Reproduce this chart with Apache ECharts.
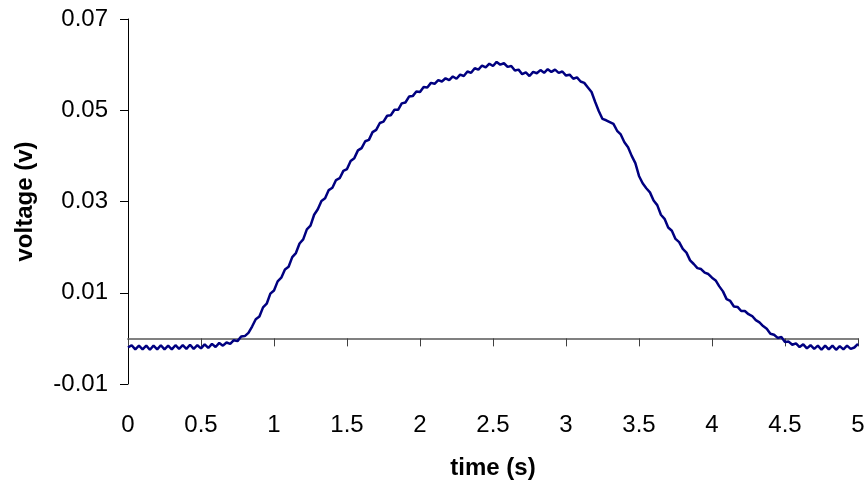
<!DOCTYPE html>
<html>
<head>
<meta charset="utf-8">
<script src="https://cdn.jsdelivr.net/npm/echarts@6/dist/echarts.min.js"></script>
<style>
  html, body { margin: 0; padding: 0; background: #fff; }
  #chart { width: 868px; height: 487px; }
</style>
</head>
<body>
<div id="chart"></div>
<script>
// sampled every 0.025 s, from 0 to 5 s
const timeStep = 0.025;
const voltage = [
  -0.0020, -0.0015, -0.0024, -0.0016, -0.0024, -0.0016, -0.0025, -0.0016, -0.0024, -0.0015,
  -0.0024, -0.0016, -0.0024, -0.0015, -0.0023, -0.0015, -0.0023, -0.0014, -0.0023, -0.0015,
  -0.0022, -0.0013, -0.0021, -0.0012, -0.0019, -0.0010, -0.0016, -0.0009, -0.0012, -0.0004,
  -0.0006, 0.0004, 0.0005, 0.0012, 0.0026, 0.0042, 0.0048, 0.0068, 0.0076, 0.0098,
  0.0105, 0.0125, 0.0133, 0.0151, 0.0157, 0.0178, 0.0187, 0.0208, 0.0217, 0.0239,
  0.0247, 0.0271, 0.0283, 0.0301, 0.0307, 0.0325, 0.0330, 0.0347, 0.0351, 0.0367,
  0.0371, 0.0389, 0.0395, 0.0412, 0.0417, 0.0432, 0.0435, 0.0452, 0.0457, 0.0472,
  0.0475, 0.0488, 0.0489, 0.0501, 0.0501, 0.0515, 0.0517, 0.0530, 0.0531, 0.0541,
  0.0540, 0.0551, 0.0550, 0.0560, 0.0558, 0.0566, 0.0563, 0.0570, 0.0566, 0.0574,
  0.0569, 0.0578, 0.0575, 0.0585, 0.0582, 0.0592, 0.0589, 0.0598, 0.0594, 0.0602,
  0.0597, 0.0606, 0.0600, 0.0603, 0.0595, 0.0597, 0.0587, 0.0589, 0.0579, 0.0583,
  0.0575, 0.0584, 0.0581, 0.0588, 0.0582, 0.0590, 0.0584, 0.0589, 0.0582, 0.0585,
  0.0576, 0.0578, 0.0569, 0.0572, 0.0563, 0.0560, 0.0550, 0.0540, 0.0518, 0.0498,
  0.0481, 0.0478, 0.0474, 0.0470, 0.0455, 0.0447, 0.0430, 0.0419, 0.0400, 0.0384,
  0.0356, 0.0340, 0.0329, 0.0320, 0.0302, 0.0292, 0.0271, 0.0262, 0.0243, 0.0236,
  0.0218, 0.0211, 0.0196, 0.0188, 0.0171, 0.0163, 0.0154, 0.0152, 0.0144, 0.0141,
  0.0133, 0.0127, 0.0114, 0.0103, 0.0086, 0.0082, 0.0070, 0.0069, 0.0060, 0.0060,
  0.0053, 0.0049, 0.0040, 0.0035, 0.0027, 0.0021, 0.0010, 0.0008, 0.0001, 0.0003,
  -0.0008, -0.0007, -0.0014, -0.0011, -0.0019, -0.0013, -0.0022, -0.0015, -0.0023, -0.0016,
  -0.0025, -0.0016, -0.0024, -0.0016, -0.0025, -0.0017, -0.0024, -0.0016, -0.0023, -0.0020,
  -0.0012
];
const yTicks = [-0.01, 0.01, 0.03, 0.05, 0.07];

let chartDom = document.getElementById('chart');
let myChart = echarts.init(chartDom);

let points = voltage.map(function (v, i) {
  return [+(i * timeStep).toFixed(3), v];
});

let option = {
  animation: false,
  textStyle: { fontFamily: 'Liberation Sans, Arial, sans-serif' },
  grid: {
    left: 128,
    right: 10,
    top: 19,
    bottom: 103
  },
  xAxis: {
    type: 'value',
    min: 0,
    max: 5,
    interval: 0.5,
    name: 'time (s)',
    nameLocation: 'middle',
    nameGap: 72,
    nameTextStyle: { fontSize: 24, fontWeight: 'bold', color: '#000' },
    axisLine: { onZero: true, lineStyle: { color: '#808080', width: 2 } },
    axisTick: { length: 8, lineStyle: { color: '#404040', width: 1 } },
    axisLabel: { fontSize: 24, color: '#000', margin: 29 },
    splitLine: { show: false }
  },
  yAxis: {
    type: 'value',
    min: -0.01,
    max: 0.07,
    name: 'voltage (v)',
    nameLocation: 'middle',
    nameGap: 91,
    nameTextStyle: { fontSize: 24, fontWeight: 'bold', color: '#000' },
    axisLine: { show: true, lineStyle: { color: '#000', width: 1 } },
    axisTick: { show: true, length: 8, customValues: yTicks, lineStyle: { color: '#000' } },
    axisLabel: { fontSize: 24, color: '#000', margin: 20, customValues: yTicks },
    splitLine: { show: false }
  },
  series: [
    {
      type: 'line',
      data: points,
      showSymbol: false,
      lineStyle: { color: '#000080', width: 2.5 },
      itemStyle: { color: '#000080' }
    }
  ]
};

option && myChart.setOption(option);
</script>
</body>
</html>
